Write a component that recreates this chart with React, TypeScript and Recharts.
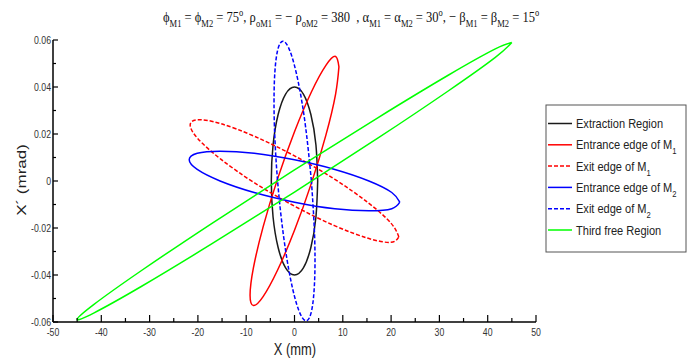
import React from 'react';
import { LineChart, Line, XAxis, YAxis } from 'recharts';

// tick values (majors get labels)
const xTicks = [-50, -45, -40, -35, -30, -25, -20, -15, -10, -5, 0, 5, 10, 15, 20, 25, 30, 35, 40, 45, 50];
const yTicks = [-0.06, -0.05, -0.04, -0.03, -0.02, -0.01, 0, 0.01, 0.02, 0.03, 0.04, 0.05, 0.06];

// ellipse outlines (X in mm, X' in mrad)
const extractionX = [4.8, 4.44, 3.39, 1.84, 0, -1.84, -3.39, -4.44, -4.8, -4.44, -3.39, -1.84, 0, 1.84, 3.39, 4.44];
const extractionY = [0, 0.0153, 0.0283, 0.037, 0.04, 0.037, 0.0283, 0.0153, 0, -0.0153, -0.0283, -0.037, -0.04, -0.037, -0.0283, -0.0153];

const entranceM1X = [9.2, 8.5, 6.5, 3.52, 0, -3.52, -6.5, -8.5, -9.2, -8.5, -6.5, -3.52, 0, 3.52, 6.5, 8.5];
const entranceM1Y = [0.0486, 0.053, 0.0492, 0.038, 0.021, 0.0008, -0.0195, -0.0369, -0.0486, -0.053, -0.0492, -0.038, -0.021, -0.0008, 0.0195, 0.0369];

const exitM1X = [21.6, 19.96, 15.27, 8.27, 0, -8.27, -15.27, -19.96, -21.6, -19.96, -15.27, -8.27, 0, 8.27, 15.27, 19.96];
const exitM1Y = [-0.0238, -0.0179, -0.0093, 0.0008, 0.0107, 0.019, 0.0244, 0.0261, 0.0238, 0.0179, 0.0093, -0.0008, -0.0107, -0.019, -0.0244, -0.0261];

const entranceM2X = [21.8, 20.14, 15.41, 8.35, 0, -8.35, -15.41, -20.14, -21.8, -20.14, -15.41, -8.35, 0, 8.35, 15.41, 20.14];
const entranceM2Y = [-0.009, -0.0049, 0, 0.0049, 0.009, 0.0118, 0.0127, 0.0118, 0.009, 0.0049, 0, -0.0049, -0.009, -0.0118, -0.0127, -0.0118];

const exitM2X = [3.5, 2.31, 0.78, -0.88, -2.4, -3.56, -4.17, -4.15, -3.5, -2.31, -0.78, 0.88, 2.4, 3.56, 4.17, 4.15];
const exitM2Y = [0, 0.0228, 0.0421, 0.055, 0.0595, 0.055, 0.0421, 0.0228, 0, -0.0228, -0.0421, -0.055, -0.0595, -0.055, -0.0421, -0.0228];

const thirdFreeX = [45, 41.58, 31.82, 17.24, 0, -17.24, -31.82, -41.58, -45, -41.58, -31.82, -17.24, 0, 17.24, 31.82, 41.58];
const thirdFreeY = [0.0589, 0.0562, 0.045, 0.0269, 0.0047, -0.0182, -0.0383, -0.0526, -0.0589, -0.0562, -0.045, -0.0269, -0.0047, 0.0182, 0.0383, 0.0526];

const seriesNames = ['Extraction Region', 'Entrance edge of M|1', 'Exit edge of M|1', 'Entrance edge of M|2', 'Exit edge of M|2', 'Third free Region'];
const seriesColors = ['#1a1a1a', '#ff0000', '#ff0000', '#0000ff', '#0000ff', '#00ff00'];
const seriesDashes = ['', '', '4 2', '', '4 2', ''];

// closed loop: repeat the first point at the end
const loop = (xs: number[], ys: number[]) => {
  const pts = xs.map((x, i) => ({ x, y: ys[i] }));
  return [...pts, pts[0]];
};

const curves = [
  loop(extractionX, extractionY),
  loop(entranceM1X, entranceM1Y),
  loop(exitM1X, exitM1Y),
  loop(entranceM2X, entranceM2Y),
  loop(exitM2X, exitM2Y),
  loop(thirdFreeX, thirdFreeY),
];

const AXIS_FONT = '"Liberation Sans", Arial, sans-serif';

const XTick = (props: any) => {
  const { x, y, payload } = props;
  const v = payload.value;
  const major = Math.round(v) % 10 === 0;
  return (
    <g>
      <line x1={x} x2={x} y1={y} y2={y - (major ? 7 : 4)} stroke="#000" strokeWidth={1.2} />
      {major && (
        <text transform={`translate(${x},${y + 14}) scale(0.76,1)`} textAnchor="middle" fontSize={11.5} fill="#333" fontFamily={AXIS_FONT}>
          {v}
        </text>
      )}
    </g>
  );
};

const YTick = (props: any) => {
  const { x, y, payload } = props;
  const v = payload.value;
  const major = Math.round(v * 100) % 2 === 0;
  return (
    <g>
      <line x1={x} x2={x + (major ? 5 : 3)} y1={y} y2={y} stroke="#000" strokeWidth={1.2} />
      {major && (
        <text transform={`translate(${x - 2},${y + 4}) scale(0.76,1)`} textAnchor="end" fontSize={11.5} fill="#333" fontFamily={AXIS_FONT}>
          {v === 0 ? '0' : v.toFixed(2)}
        </text>
      )}
    </g>
  );
};

// title pieces: [text, kind]
const titleParts: Array<[string, string]> = [
  ['ϕ', ''], ['M1', 'sub'], [' = ϕ', ''], ['M2', 'sub'], [' = 75', ''], ['o', 'sup'],
  [', ρ', ''], ['oM1', 'sub'], [' = − ρ', ''], ['oM2', 'sub'], [' = 380  , α', ''], ['M1', 'sub'],
  [' = α', ''], ['M2', 'sub'], [' = 30', ''], ['o', 'sup'], [', − β', ''], ['M1', 'sub'],
  [' = β', ''], ['M2', 'sub'], [' = 15', ''], ['o', 'sup'],
];

const Title = () => {
  let shift = 0;
  const spans = titleParts.map(([t, kind], i) => {
    const target = kind === 'sub' ? 5 : kind === 'sup' ? -6 : 0;
    const dy = target - shift;
    shift = target;
    return (
      <tspan key={i} dy={dy} fontSize={kind ? 10.5 : 15.5}>
        {t}
      </tspan>
    );
  });
  return (
    <text transform="translate(163,22) scale(0.81,1)" fontFamily='"Liberation Serif", "Times New Roman", serif' fill="#111" xmlSpace="preserve">
      {spans}
    </text>
  );
};

const LegendBox = () => (
  <g>
    <rect x={546} y={105} width={140} height={147} fill="#fff" stroke="#555" strokeWidth={1} />
    {seriesNames.map((name, i) => {
      const cy = 123.5 + i * 21.3;
      const [main, sub] = name.split('|');
      return (
        <g key={name}>
          <line x1={548} x2={572} y1={cy} y2={cy} stroke={seriesColors[i]} strokeWidth={1.5} strokeDasharray={seriesDashes[i] || undefined} />
          <text transform={`translate(576,${cy + 4.5}) scale(0.85,1)`} fontSize={13} fill="#222" fontFamily={AXIS_FONT}>
            <tspan>{main}</tspan>
            {sub && (
              <tspan dy={5} fontSize={9}>
                {sub}
              </tspan>
            )}
          </text>
        </g>
      );
    })}
  </g>
);

export default function App() {
  return (
    <div style={{ position: 'absolute', left: 0, top: 0, width: 692, height: 358, background: '#fff' }}>
      <LineChart width={692} height={358} margin={{ top: 40, right: 156, bottom: 0, left: 0 }}>
        <XAxis
          type="number"
          dataKey="x"
          domain={[-50, 50]}
          ticks={xTicks}
          interval={0}
          height={36}
          tickSize={0}
          tickMargin={0}
          tickLine={false}
          tick={<XTick />}
          axisLine={{ stroke: '#000', strokeWidth: 1.5 }}
          allowDataOverflow
        />
        <YAxis
          type="number"
          dataKey="y"
          domain={[-0.06, 0.06]}
          ticks={yTicks}
          interval={0}
          width={53}
          tickSize={0}
          tickMargin={0}
          tickLine={false}
          tick={<YTick />}
          axisLine={{ stroke: '#000', strokeWidth: 1.5 }}
          allowDataOverflow
        />
        {curves.map((pts, i) => (
          <Line
            key={seriesNames[i]}
            data={pts}
            dataKey="y"
            name={seriesNames[i].replace('|', '')}
            type="natural"
            stroke={seriesColors[i]}
            strokeWidth={1.5}
            strokeDasharray={seriesDashes[i] || undefined}
            dot={false}
            activeDot={false}
            isAnimationActive={false}
          />
        ))}
      </LineChart>
      <svg width={692} height={358} style={{ position: 'absolute', left: 0, top: 0, pointerEvents: 'none' }}>
        <Title />
        <text transform="translate(295,355) scale(0.76,1)" textAnchor="middle" fontSize={17} fill="#222" fontFamily={AXIS_FONT}>
          X (mm)
        </text>
        <text transform="translate(26,180) scale(0.76,1) rotate(-90)" textAnchor="middle" fontSize={17} fill="#222" fontFamily={AXIS_FONT}>
          X´ (mrad)
        </text>
        <LegendBox />
      </svg>
    </div>
  );
}
